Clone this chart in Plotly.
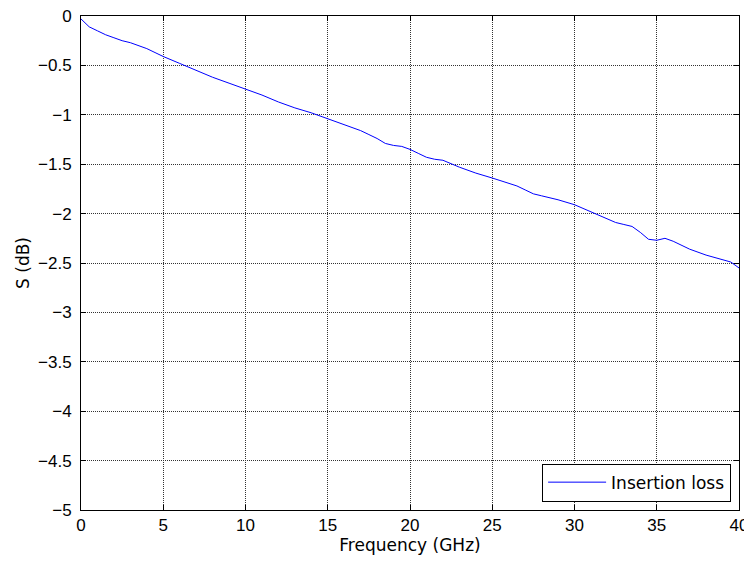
import plotly.graph_objects as go

freq = [0, 0.25, 0.5, 1, 1.5, 2, 2.5, 3, 3.5, 4, 4.5, 5, 6, 7, 8, 9, 10, 11, 12, 13, 14,
        15, 16, 17, 17.5, 18, 18.5, 19, 19.5, 20, 20.5, 21, 21.5, 22, 23, 24, 25, 26, 26.5,
        27, 27.5, 28, 29, 30, 31, 32, 32.5, 33, 33.5, 34, 34.5, 35, 35.5, 36, 37, 38, 39,
        39.5, 40]
s_db = [-0.03, -0.07, -0.11, -0.15, -0.19, -0.22, -0.25, -0.27, -0.30, -0.33, -0.37, -0.41,
        -0.48, -0.55, -0.62, -0.68, -0.74, -0.80, -0.87, -0.93, -0.98, -1.04, -1.10, -1.16,
        -1.20, -1.24, -1.29, -1.31, -1.32, -1.35, -1.39, -1.43, -1.45, -1.46, -1.53, -1.59,
        -1.64, -1.69, -1.72, -1.76, -1.80, -1.82, -1.86, -1.91, -1.98, -2.05, -2.09, -2.11,
        -2.13, -2.19, -2.26, -2.27, -2.25, -2.28, -2.36, -2.42, -2.47, -2.49, -2.55]

x_ticks = [0, 5, 10, 15, 20, 25, 30, 35, 40]
y_ticks = [0, -0.5, -1, -1.5, -2, -2.5, -3, -3.5, -4, -4.5, -5]
y_ticktext = ["0", "−0.5", "−1", "−1.5", "−2", "−2.5", "−3", "−3.5", "−4", "−4.5", "−5"]

TICK_FONT = dict(size=17, color="black", family="Liberation Sans, Arial, sans-serif")
TEXT_FONT = dict(size=17, color="black", family="DejaVu Sans, sans-serif")

fig = go.Figure()
fig.add_trace(go.Scatter(x=freq, y=s_db, mode="lines", name="Insertion loss",
                         line=dict(color="#0000FF", width=1)))

axis_common = dict(showline=True, linecolor="black", linewidth=1, mirror="ticks",
                   ticks="inside", ticklen=5, tickcolor="black", automargin=False,
                   ticklabeloverflow="allow",
                   showgrid=True, gridcolor="#333333", griddash="1px,1px", gridwidth=1,
                   zeroline=False, tickfont=TICK_FONT)

fig.update_xaxes(range=[0, 40], tickvals=x_ticks,
                 title=dict(text="Frequency (GHz)", font=TEXT_FONT, standoff=4),
                 **axis_common)
fig.update_yaxes(range=[-5, 0], tickvals=y_ticks, ticktext=y_ticktext,
                 ticklabelstandoff=5,
                 title=dict(text="S (dB)", font=TEXT_FONT, standoff=4),
                 **axis_common)

# The page body has an 8px margin, so the figure is sized to fit the 752x568 window.
fig.update_layout(
    width=744, height=552,
    margin=dict(l=72.5, r=12.5, t=7.5, b=50),
    paper_bgcolor="white", plot_bgcolor="white",
    font=TEXT_FONT,
    showlegend=True,
    legend=dict(x=0.988, y=0.017, xanchor="right", yanchor="bottom",
                bordercolor="black", borderwidth=1, bgcolor="white",
                itemwidth=58, tracegroupgap=0,
                font=TEXT_FONT),
)

fig.write_html("out.html")
